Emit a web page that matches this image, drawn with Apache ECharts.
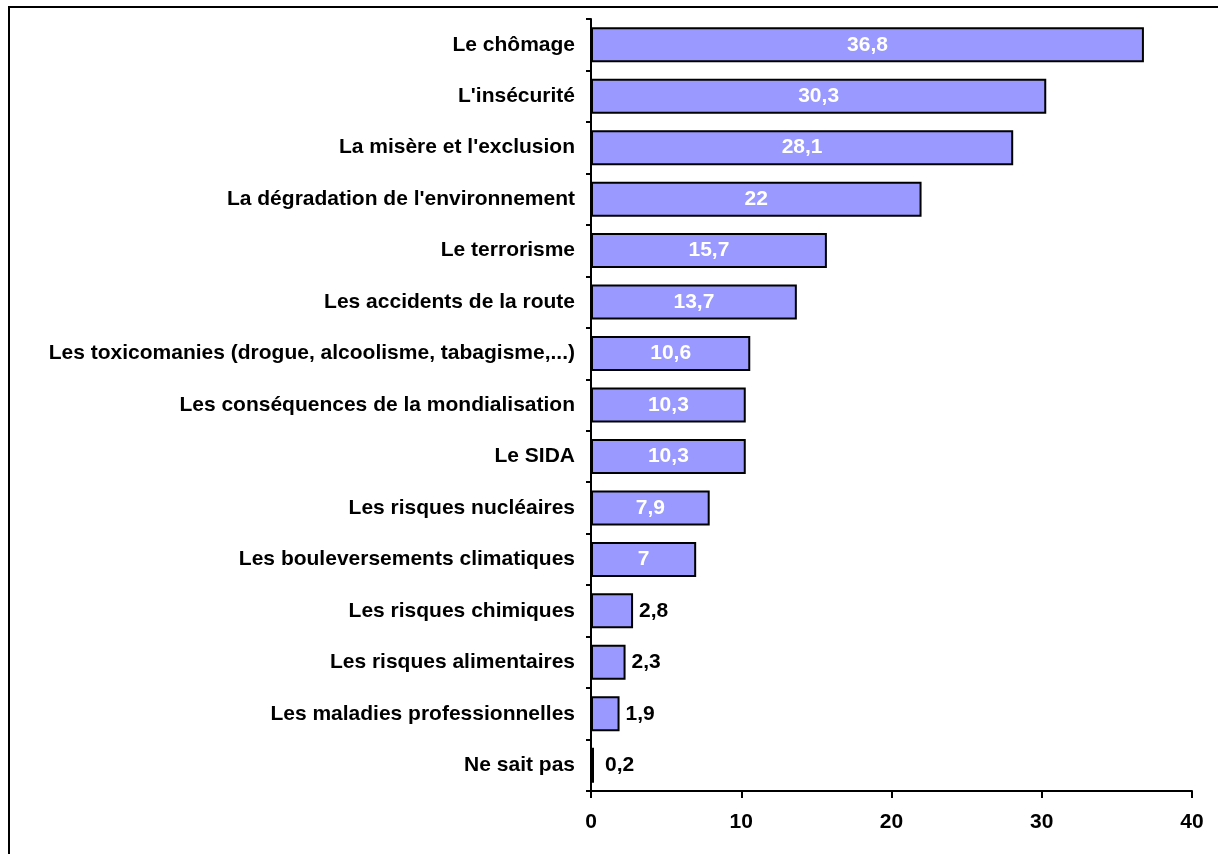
<!DOCTYPE html>
<html><head><meta charset="utf-8">
<script src="https://cdn.jsdelivr.net/npm/echarts@6/dist/echarts.min.js"></script>
<style>html,body{margin:0;padding:0;background:#fff}#c{width:1218px;height:854px}</style>
</head><body><div id="c"></div>
<script>
const categories = [
  "Le chômage",
  "L'insécurité",
  "La misère et l'exclusion",
  "La dégradation de l'environnement",
  "Le terrorisme",
  "Les accidents de la route",
  "Les toxicomanies (drogue, alcoolisme, tabagisme,...)",
  "Les conséquences de la mondialisation",
  "Le SIDA",
  "Les risques nucléaires",
  "Les bouleversements climatiques",
  "Les risques chimiques",
  "Les risques alimentaires",
  "Les maladies professionnelles",
  "Ne sait pas"
];
const values = [36.8, 30.3, 28.1, 22, 15.7, 13.7, 10.6, 10.3, 10.3, 7.9, 7, 2.8, 2.3, 1.9, 0.2];
const xTicks = [0, 10, 20, 30, 40];

const font = 'Arial, "Liberation Sans", sans-serif';
const fmt = v => String(v).replace('.', ',');
const data = values.map(v => v >= 5 ? {
  value: v,
  label: { position: 'inside', color: '#fff' }
} : {
  value: v,
  label: { position: 'right', color: '#000', distance: v < 1 ? 11 : 6 }
});

const chart = echarts.init(document.getElementById('c'), null, { renderer: 'canvas' });
chart.setOption({
  animation: false,
  backgroundColor: '#fff',
  grid: { left: 591, right: 26, top: 19, bottom: 63, containLabel: false },
  xAxis: {
    type: 'value', min: xTicks[0], max: xTicks[xTicks.length - 1], interval: 10,
    axisLine: { show: true, lineStyle: { color: '#000', width: 2 } },
    axisTick: { show: true, length: 7, lineStyle: { color: '#000', width: 2 } },
    splitLine: { show: false },
    axisLabel: { color: '#000', fontWeight: 'bold', fontSize: 21, fontFamily: font, margin: 21 }
  },
  yAxis: {
    type: 'category', data: categories, inverse: true,
    axisLine: { show: true, lineStyle: { color: '#000', width: 2 } },
    axisTick: { show: true, length: 5, lineStyle: { color: '#000', width: 2 } },
    axisLabel: { color: '#000', fontWeight: 'bold', fontSize: 21, fontFamily: font, margin: 16 }
  },
  series: [{
    type: 'bar', data: data, barCategoryGap: '32%',
    itemStyle: { color: '#9999FF', borderColor: '#000', borderWidth: 2 },
    label: { show: true, fontWeight: 'bold', fontSize: 21, fontFamily: font, formatter: p => fmt(p.value) }
  }],
  graphic: [
    { type: 'line', shape: { x1: 8, y1: 7, x2: 1218, y2: 7 }, style: { stroke: '#000', lineWidth: 2 } },
    { type: 'line', shape: { x1: 9, y1: 6, x2: 9, y2: 854 }, style: { stroke: '#000', lineWidth: 2 } }
  ]
});
</script></body></html>
